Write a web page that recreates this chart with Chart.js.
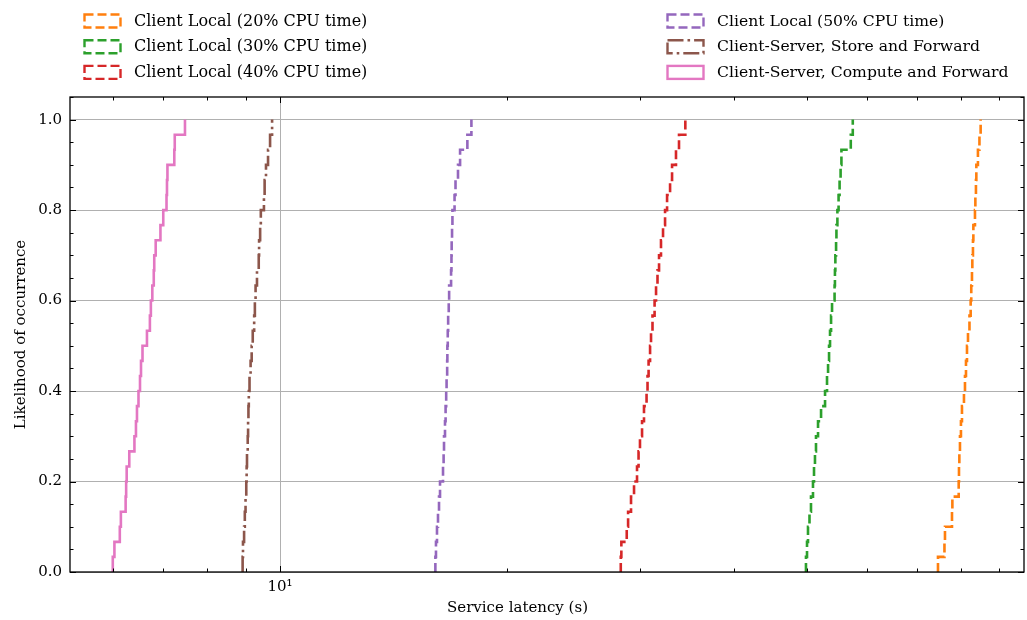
<!DOCTYPE html>
<html>
<head>
<meta charset="utf-8">
<script src="https://cdn.jsdelivr.net/npm/chart.js@4.4.1/dist/chart.umd.min.js"></script>
<style>
html, body { margin: 0; padding: 0; background: #fff; }
</style>
</head>
<body>
<canvas id="chart" width="1027" height="620"></canvas>
<script>
// Service latency samples (s), one sorted list per configuration
const labels = [
    'Client Local (20% CPU time)',
    'Client Local (30% CPU time)',
    'Client Local (40% CPU time)',
    'Client Local (50% CPU time)',
    'Client-Server, Store and Forward',
    'Client-Server, Compute and Forward'
];
const local20 = [74.59, 76.08, 76.20, 77.85, 77.94, 79.46, 79.53, 79.62, 79.77, 80.01, 80.26, 80.75, 81.00, 81.25, 81.50,
    81.75, 82.12, 82.42, 82.57, 82.75, 82.84, 83.00, 83.10, 83.51, 83.61, 83.76, 83.86, 84.27, 84.66, 84.97];
const local30 = [49.84, 50.00, 50.15, 50.38, 50.61, 50.92, 51.08, 51.23, 51.39, 51.71, 52.19, 52.83, 53.15, 53.32, 53.48,
    53.64, 53.81, 53.97, 54.39, 54.45, 54.52, 54.64, 54.70, 54.86, 55.06, 55.23, 55.40, 55.54, 57.15, 57.50];
const local40 = [28.31, 28.36, 28.83, 28.95, 29.21, 29.48, 29.75, 29.89, 30.02, 30.21, 30.39, 30.63, 30.72, 30.82, 30.96,
    31.05, 31.19, 31.39, 31.53, 31.67, 31.82, 32.01, 32.21, 32.41, 32.61, 32.91, 33.11, 33.51, 33.82, 34.48];
const local50 = [16.07, 16.10, 16.15, 16.20, 16.25, 16.30, 16.45, 16.48, 16.50, 16.55, 16.58, 16.61, 16.63, 16.66, 16.67,
    16.69, 16.71, 16.74, 16.76, 16.86, 16.88, 16.89, 16.91, 16.93, 17.04, 17.09, 17.22, 17.33, 17.72, 17.94];
const storeForward = [8.92, 8.93, 8.96, 8.98, 9.00, 9.02, 9.03, 9.04, 9.06, 9.07, 9.08, 9.09, 9.11, 9.14, 9.17,
    9.20, 9.24, 9.26, 9.28, 9.32, 9.37, 9.38, 9.41, 9.43, 9.52, 9.54, 9.58, 9.64, 9.70, 9.76];
const computeForward = [6.00, 6.03, 6.13, 6.15, 6.24, 6.25, 6.26, 6.31, 6.41, 6.44, 6.46, 6.49, 6.52, 6.54, 6.57,
    6.66, 6.72, 6.74, 6.77, 6.80, 6.81, 6.84, 6.94, 7.00, 7.07, 7.08, 7.09, 7.24, 7.25, 7.48];

const xMajorTicks = [10];
const xMinorTicks = [6, 7, 8, 9, 20, 30, 40, 50, 60, 70, 80, 90];
const yTicks = [0, 0.2, 0.4, 0.6, 0.8, 1.0];
const yMinorTicks = [0.05, 0.1, 0.15, 0.25, 0.3, 0.35, 0.45, 0.5, 0.55, 0.65, 0.7, 0.75, 0.85, 0.9, 0.95, 1.05];
const xTitle = 'Service latency (s)';

const FAMILY = "'DejaVu Serif', serif";
const FONT = { family: FAMILY, size: 15 };

// empirical CDF: each sample lifts the curve by 1/n
function ecdf(samples) {
    const n = samples.length;
    const pts = [{ x: samples[0], y: 0 }];
    samples.forEach((v, i) => pts.push({ x: v, y: (i + 1) / n }));
    return pts;
}

function series(label, samples, color, dash) {
    return {
        label: label,
        data: ecdf(samples),
        borderColor: color,
        borderWidth: 2.6,
        borderDash: dash,
        borderCapStyle: 'butt',
        stepped: 'before',
        pointRadius: 0,
        fill: false
    };
}

const dashed = [9, 4];
const dashDot = [16, 4, 2.6, 4];

// inward ticks, black frame and the x label
const frameTicks = {
    id: 'frameTicks',
    afterDraw(chart) {
        const { ctx, chartArea: a, scales: { x, y } } = chart;
        ctx.save();
        ctx.strokeStyle = '#000';
        ctx.lineWidth = 1;
        const seg = (x1, y1, x2, y2) => {
            ctx.beginPath();
            ctx.moveTo(x1, y1);
            ctx.lineTo(x2, y2);
            ctx.stroke();
        };
        const xt = (vals, len) => vals.forEach(v => {
            const p = Math.round(x.getPixelForValue(v)) + 0.5;
            seg(p, a.bottom, p, a.bottom - len);
            seg(p, a.top, p, a.top + len);
        });
        const yt = (vals, len) => vals.forEach(v => {
            const p = Math.round(y.getPixelForValue(v)) + 0.5;
            seg(a.left, p, a.left + len, p);
            seg(a.right, p, a.right - len, p);
        });
        xt(xMinorTicks, 3.5);
        xt(xMajorTicks, 6);
        yt(yMinorTicks, 3.5);
        yt(yTicks, 6);
        ctx.lineWidth = 1.3;
        ctx.strokeRect(a.left, a.top, a.right - a.left, a.bottom - a.top);

        ctx.fillStyle = '#000';
        ctx.font = FONT.size + 'px ' + FAMILY;
        ctx.textAlign = 'center';
        ctx.textBaseline = 'middle';
        ctx.fillText(xTitle, 517.5, 608);
        ctx.restore();
    }
};

// two-column legend above the plot, with box handles
const boxLegend = {
    id: 'boxLegend',
    afterDraw(chart) {
        const ctx = chart.ctx;
        chart.data.datasets.forEach((ds, i) => {
            const col = Math.floor(i / 3), row = i % 3;
            const bx = col ? 667.5 : 84.5;
            const by = 14.5 + row * 25.7;
            ctx.save();
            ctx.strokeStyle = ds.borderColor;
            ctx.lineWidth = 2.4;
            ctx.setLineDash(ds.borderDash || []);
            ctx.strokeRect(bx, by, 36, 13);
            ctx.setLineDash([]);
            ctx.fillStyle = '#000';
            ctx.font = (col ? 15.6 : 16) + 'px ' + FAMILY;
            ctx.textBaseline = 'middle';
            ctx.fillText(ds.label, bx + 49.5, by + 7);
            ctx.restore();
        });
    }
};

new Chart(document.getElementById('chart'), {
    type: 'line',
    data: {
        datasets: [
            series(labels[0], local20, '#ff7f0e', dashed),
            series(labels[1], local30, '#2ca02c', dashed),
            series(labels[2], local40, '#d62728', dashed),
            series(labels[3], local50, '#9467bd', dashed),
            series(labels[4], storeForward, '#8c564b', dashDot),
            series(labels[5], computeForward, '#e377c2', [])
        ]
    },
    options: {
        responsive: false,
        animation: false,
        devicePixelRatio: 1,
        layout: { padding: { top: 97, right: 3, left: 0, bottom: 0 } },
        plugins: {
            legend: { display: false },
            tooltip: { enabled: false }
        },
        scales: {
            x: {
                type: 'logarithmic',
                min: 5.265,
                max: 97.0,
                afterFit: s => { s.height = 48; },
                afterBuildTicks: s => {
                    s.ticks = xMinorTicks.concat(xMajorTicks).sort((a, b) => a - b).map(v => ({ value: v }));
                },
                border: { display: false },
                grid: {
                    drawTicks: false,
                    lineWidth: 1,
                    color: c => (c.tick && xMajorTicks.includes(c.tick.value)) ? '#b0b0b0' : 'rgba(0,0,0,0)'
                },
                ticks: {
                    autoSkip: false,
                    maxRotation: 0,
                    padding: 6,
                    color: '#000',
                    font: FONT,
                    callback: v => xMajorTicks.includes(v) ? '10\u00b9' : ''
                },
                title: { display: false }
            },
            y: {
                min: 0,
                max: 1.05,
                afterFit: s => { s.width = 70; },
                afterBuildTicks: s => { s.ticks = yTicks.map(v => ({ value: v })); },
                border: { display: false },
                grid: { drawTicks: false, lineWidth: 1, color: '#b0b0b0' },
                ticks: {
                    padding: 8,
                    color: '#000',
                    font: FONT,
                    callback: v => v.toFixed(1)
                },
                title: {
                    display: true,
                    text: 'Likelihood of occurrence',
                    color: '#000',
                    font: FONT,
                    padding: { top: 12, bottom: 0 }
                }
            }
        }
    },
    plugins: [frameTicks, boxLegend]
});
</script>
</body>
</html>
